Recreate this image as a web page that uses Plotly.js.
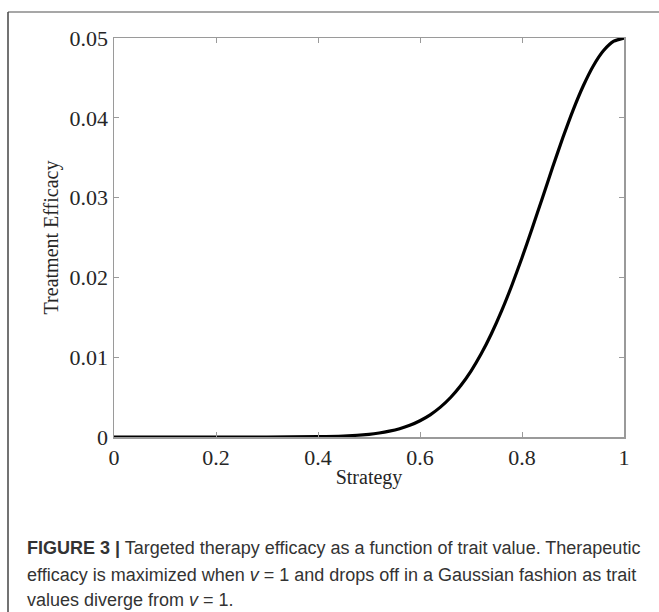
<!DOCTYPE html>
<html>
<head>
<meta charset="utf-8">
<script src="https://cdn.plot.ly/plotly-3.0.1.min.js"></script>
<style>html,body{margin:0;padding:0;background:#fff;}#chart{width:659px;height:612px;}</style>
</head>
<body>
<div id="chart"></div>
<script>
// Data
const strategy = [0, 0.1, 0.2, 0.3, 0.4, 0.45, 0.5, 0.52, 0.54, 0.56, 0.58, 0.60, 0.62, 0.64, 0.66, 0.68, 0.70, 0.72, 0.74, 0.76, 0.78, 0.80, 0.82, 0.84, 0.86, 0.88, 0.90, 0.92, 0.94, 0.96, 0.98, 1.0];
const efficacy = [0, 0, 0, 0.000003, 0.000037, 0.00012, 0.00034, 0.0005, 0.00073, 0.00104, 0.00147, 0.00204, 0.00278, 0.00374, 0.00495, 0.00645, 0.00826, 0.01042, 0.01294, 0.0158, 0.01899, 0.02247, 0.02616, 0.02996, 0.03379, 0.03749, 0.04094, 0.04399, 0.04653, 0.04843, 0.0496, 0.05];
const xTicks = [0, 0.2, 0.4, 0.6, 0.8, 1];
const xTickText = ['0', '0.2', '0.4', '0.6', '0.8', '1'];
const yTicks = [0, 0.01, 0.02, 0.03, 0.04, 0.05];
const yTickText = ['0', '0.01', '0.02', '0.03', '0.04', '0.05'];
const xTitle = 'Strategy';
const yTitle = 'Treatment Efficacy';
const captionLines = [
  '<b>FIGURE 3 |</b> Targeted therapy efficacy as a function of trait value. Therapeutic',
  'efficacy is maximized when <i>v</i> = 1 and drops off in a Gaussian fashion as trait',
  'values diverge from <i>v</i> = 1.'
];

const serif = 'Liberation Serif, Times New Roman, serif';
const sans = 'Liberation Sans, Arial, sans-serif';
const axisColor = '#9a9a9a';

const trace = {
  x: strategy, y: efficacy, type: 'scatter', mode: 'lines',
  line: {color: '#000000', width: 3.2, shape: 'spline', smoothing: 0.6},
  hoverinfo: 'skip', showlegend: false, cliponaxis: false
};

// plot area: x 114..624 px, y 38..437 px
const plotH = 399, plotW = 510, plotL = 114, plotB = 437;
const py = p => (plotB - p) / plotH;
const px = p => (p - plotL) / plotW;

const annotations = captionLines.map((t, i) => ({
  text: t, xref: 'paper', yref: 'paper', x: px(25), y: py([548, 575, 600][i]),
  xanchor: 'left', yanchor: 'middle', showarrow: false, align: 'left',
  font: {family: sans, size: 18, color: '#333333'}
}));

const layout = {
  width: 659, height: 612,
  margin: {l: 114, r: 35, t: 38, b: 175},
  paper_bgcolor: '#ffffff', plot_bgcolor: '#ffffff',
  xaxis: {
    range: [0, 1], tickvals: xTicks, ticktext: xTickText,
    showline: true, linecolor: axisColor, linewidth: 1.5, mirror: 'ticks',
    ticks: 'inside', ticklen: 5, tickcolor: axisColor, tickwidth: 1,
    showgrid: false, zeroline: false,
    tickfont: {family: serif, size: 22, color: '#262626'},
    title: {text: xTitle, font: {family: serif, size: 20, color: '#262626'}, standoff: 1}
  },
  yaxis: {
    range: [0, 0.05], tickvals: yTicks, ticktext: yTickText,
    showline: true, linecolor: axisColor, linewidth: 1.5, mirror: 'ticks',
    ticks: 'inside', ticklen: 5, tickcolor: axisColor, tickwidth: 1,
    showgrid: false, zeroline: false,
    tickfont: {family: serif, size: 22, color: '#262626'},
    title: {text: yTitle, font: {family: serif, size: 20, color: '#262626'}, standoff: 5}
  },
  shapes: [
    {type: 'line', xref: 'paper', yref: 'paper', x0: px(8), x1: px(670), y0: py(12), y1: py(12), line: {color: '#8a8a8a', width: 1.5}},
    {type: 'line', xref: 'paper', yref: 'paper', x0: px(8), x1: px(8), y0: py(12), y1: py(640), line: {color: '#444444', width: 1.5}}
  ],
  annotations: annotations
};

Plotly.newPlot('chart', [trace], layout, {displayModeBar: false, staticPlot: true});
</script>
</body>
</html>
